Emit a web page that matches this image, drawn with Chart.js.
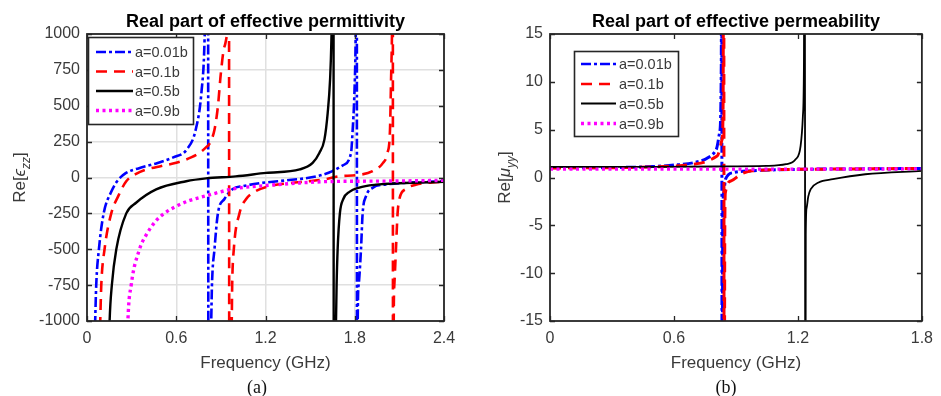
<!DOCTYPE html>
<html><head><meta charset="utf-8">
<script src="https://cdn.jsdelivr.net/npm/chart.js@4/dist/chart.umd.min.js"></script>
<style>
html,body{margin:0;padding:0;background:#fff;}
#wrap{position:relative;width:941px;height:396px;overflow:hidden;background:#fff;}
canvas{position:absolute;top:0;}
#c1{left:0;}
#c2{left:470px;}
</style></head><body>
<div id="wrap"><canvas id="c1" width="470" height="396"></canvas><canvas id="c2" width="471" height="396"></canvas></div>
<script>
// ---------- data ----------
const seriesLabels = ['a=0.01b', 'a=0.1b', 'a=0.5b', 'a=0.9b'];

const epsTicksX = [0, 0.6, 1.2, 1.8, 2.4];
const epsTicksY = [-1000, -750, -500, -250, 0, 250, 500, 750, 1000];
const muTicksX = [0, 0.6, 1.2, 1.8];
const muTicksY = [-15, -10, -5, 0, 5, 10, 15];

// Re[eps_zz] (left panel)
const epsF_a001 = [0.048,0.055,0.062,0.080,0.112,0.163,0.20,0.26,0.35,0.47,0.58,0.67,0.73,0.77,0.79,0.80,0.812,
  0.818,0.830,0.835,0.840,0.857,0.880,0.924,0.98,1.05,1.16,1.34,1.45,1.56,1.65,1.72,1.775,1.786,1.797,1.806,1.810,1.813,
  1.816,1.820,1.826,1.842,1.853,1.876,1.92,2.01,2.23,2.40];
const epsV_a001 = [-1300,-1000,-750,-500,-250,-100,-30,30,65,100,140,194,330,600,950,1500,4000,
  -4000,-1200,-1000,-750,-500,-250,-150,-80,-60,-40,-20,-8,12,44,85,171,333,565,950,1500,4000,
  -4000,-1000,-750,-500,-250,-130,-72,-49,-33,-26];

const epsF_a01 = [0.082,0.089,0.096,0.118,0.163,0.21,0.264,0.33,0.40,0.50,0.60,0.70,0.756,0.80,0.823,0.857,0.88,0.90,0.924,0.942,0.950,0.953,
  0.958,0.968,0.973,0.976,0.987,1.025,1.07,1.125,1.226,1.36,1.50,1.60,1.70,1.81,1.92,1.99,2.02,2.037,2.044,2.05,2.053,2.055,
  2.058,2.062,2.066,2.077,2.088,2.10,2.144,2.21,2.32,2.40];
const epsV_a01 = [-1300,-1000,-750,-500,-250,-130,-26,25,56,80,102,140,171,210,235,333,495,727,912,1000,1500,4000,
  -4000,-1200,-1000,-750,-500,-250,-150,-100,-60,-40,-25,-12,9,16,44,102,171,333,680,981,1500,4000,
  -4000,-1000,-750,-500,-250,-150,-80,-50,-35,-30];

const epsF_a05 = [0.145,0.152,0.167,0.197,0.264,0.33,0.465,0.667,0.80,1.0,1.204,1.43,1.517,1.562,1.596,1.618,1.634,1.643,1.650,1.656,
  1.660,1.670,1.674,1.678,1.685,1.70,1.723,1.764,1.83,1.943,2.10,2.40];
const epsV_a05 = [-1300,-1000,-750,-500,-250,-176,-83,-26,-6,8,32,56,102,171,264,449,680,958,1500,4000,
  -4000,-1200,-1000,-750,-500,-250,-150,-100,-70,-50,-40,-30];

const epsF_a09 = [0.268,0.275,0.297,0.353,0.398,0.465,0.52,0.60,0.69,0.81,0.98,1.204,1.43,1.63,2.0,2.4];
const epsV_a09 = [-1300,-1000,-750,-500,-400,-300,-250,-200,-160,-125,-80,-56,-38,-28,-25,-20];

// Re[mu_yy] (right panel)
const muF_a001 = [0,0.3,0.5,0.6,0.698,0.766,0.805,0.821,0.829,0.831,
  0.833,0.836,0.842,0.849,0.889,0.968,1.2,1.5,1.8];
const muV_a001 = [1.02,1.04,1.15,1.3,1.56,2.08,2.95,4.7,11.6,40,
  -40,-4,-1.5,-0.2,0.52,0.69,0.85,0.9,0.95];

const muF_a01 = [0,0.4,0.6,0.73,0.809,0.833,0.838,0.841,
  0.843,0.846,0.849,0.877,0.924,0.98,1.2,1.5,1.8];
const muV_a01 = [1.0,1.05,1.2,1.5,2.25,4,8,40,
  -40,-6,-1.56,-0.35,0.34,0.7,0.85,0.9,0.95];

const muF_a05 = [0,0.5,0.8,1.047,1.142,1.189,1.213,1.224,1.229,1.233,
  1.236,1.238,1.242,1.25,1.262,1.30,1.369,1.526,1.8];
const muV_a05 = [1.1,1.12,1.15,1.21,1.39,1.9,3.3,6.4,11.6,40,
  -40,-6,-3.2,-2,-1.22,-0.52,-0.18,0.34,0.69];

const muF_a09 = [0,0.6,1.2,1.8];
const muV_a09 = [0.88,0.88,0.88,0.9];

// ---------- styles ----------
const FONT = '"Liberation Sans", Arial, Helvetica, sans-serif';
const AXC = '#262626';
const TXT = '#3a3a3a';
const styles = [
  {color:'#0000ff', dash:[10,3,3,3], width:2.6, order:4},
  {color:'#ff0000', dash:[11,7], width:2.6, order:3},
  {color:'#000000', dash:[], width:2.4, order:2},
  {color:'#ff00ff', dash:[3,3.5], width:3.4, order:1}
];

function pts(f, v) { return f.map((x, i) => ({x: x, y: v[i]})); }

function makeDatasets(pairs, widthScale) {
  return pairs.map((p, i) => ({
    label: seriesLabels[i],
    data: pts(p[0], p[1]),
    borderColor: styles[i].color,
    backgroundColor: styles[i].color,
    borderDash: styles[i].dash,
    borderWidth: styles[i].width * (widthScale ? widthScale[i] : 1),
    borderCapStyle: 'butt',
    pointRadius: 0,
    fill: false,
    cubicInterpolationMode: 'monotone',
    order: styles[i].order
  }));
}

function decor(cfg) {
  return {
    id: 'decor',
    afterDraw(chart) {
      const ctx = chart.ctx, a = chart.chartArea;
      const xs = chart.scales.x, ys = chart.scales.y;
      ctx.save();
      // inward ticks
      ctx.strokeStyle = AXC; ctx.lineWidth = 1.3; ctx.setLineDash([]);
      ctx.beginPath();
      xs.ticks.forEach(t => {
        const p = Math.round(xs.getPixelForValue(t.value)) + 0.5;
        ctx.moveTo(p, a.bottom); ctx.lineTo(p, a.bottom - 5);
        ctx.moveTo(p, a.top); ctx.lineTo(p, a.top + 5);
      });
      ys.ticks.forEach(t => {
        const p = Math.round(ys.getPixelForValue(t.value)) + 0.5;
        ctx.moveTo(a.left, p); ctx.lineTo(a.left + 5, p);
        ctx.moveTo(a.right, p); ctx.lineTo(a.right - 5, p);
      });
      ctx.stroke();
      // axes box
      ctx.lineWidth = 1.8;
      ctx.strokeRect(a.left, a.top, a.right - a.left, a.bottom - a.top);

      // legend
      const L = cfg.legend;
      ctx.fillStyle = '#fff';
      ctx.fillRect(L.x, L.y, L.w, L.h);
      ctx.lineWidth = 1.6; ctx.strokeStyle = AXC;
      ctx.strokeRect(L.x, L.y, L.w, L.h);
      chart.data.datasets.forEach((ds, i) => {
        const yy = L.rows[i];
        ctx.beginPath();
        ctx.setLineDash(ds.borderDash);
        ctx.lineCap = 'butt';
        ctx.strokeStyle = ds.borderColor;
        ctx.lineWidth = L.lineW[i];
        ctx.moveTo(L.lx0, yy); ctx.lineTo(L.lx1, yy);
        ctx.stroke();
        ctx.setLineDash([]);
        ctx.fillStyle = TXT;
        ctx.font = '14.5px ' + FONT;
        ctx.textAlign = 'left'; ctx.textBaseline = 'middle';
        ctx.fillText(ds.label, L.tx, yy + 1);
      });

      const cx = (a.left + a.right) / 2;
      // title
      ctx.fillStyle = '#000';
      ctx.font = 'bold 18px ' + FONT;
      ctx.textAlign = 'center'; ctx.textBaseline = 'middle';
      ctx.fillText(cfg.title, cx, 22);
      // x label
      ctx.fillStyle = TXT;
      ctx.font = '17px ' + FONT;
      ctx.fillText('Frequency (GHz)', cx, 363);
      // caption
      ctx.fillStyle = '#111';
      ctx.font = '18px "Liberation Serif", "Times New Roman", serif';
      ctx.fillText(cfg.caption, cfg.capX, 388);

      // y label with italic symbol and subscript
      ctx.translate(cfg.ylabX, (a.top + a.bottom) / 2);
      ctx.rotate(-Math.PI / 2);
      ctx.textAlign = 'left'; ctx.textBaseline = 'alphabetic';
      const fN = '17px ' + FONT, fI = 'italic 17px ' + FONT, fS = 'italic 12px ' + FONT;
      const parts = [
        {t: 'Re[', f: fN, dy: 0},
        {t: cfg.sym, f: fI, dy: 0},
        {t: cfg.sub, f: fS, dy: 5},
        {t: ']', f: fN, dy: 0}
      ];
      let w = 0;
      parts.forEach(p => { ctx.font = p.f; p.w = ctx.measureText(p.t).width; w += p.w; });
      let x0 = -w / 2;
      ctx.fillStyle = TXT;
      parts.forEach(p => { ctx.font = p.f; ctx.fillText(p.t, x0, 6 + p.dy); x0 += p.w; });
      ctx.restore();
    }
  };
}

function makeChart(id, datasets, o) {
  return new Chart(document.getElementById(id), {
    type: 'line',
    data: {datasets: datasets},
    options: {
      responsive: false,
      animation: false,
      events: [],
      layout: {padding: {left: 0, right: o.padRight, top: 34, bottom: 0}},
      plugins: {legend: {display: false}, tooltip: {enabled: false}, title: {display: false}},
      scales: {
        x: {
          type: 'linear', min: o.xMin, max: o.xMax,
          afterBuildTicks: s => { s.ticks = o.xTicks.map(v => ({value: v})); },
          afterFit: s => { s.height = 75; },
          grid: {display: o.grid, color: '#e0e0e0', lineWidth: 1.5, drawTicks: false},
          border: {display: false},
          ticks: {callback: v => String(v), color: TXT, font: {family: FONT, size: 16}, padding: 8, maxRotation: 0, autoSkip: false}
        },
        y: {
          type: 'linear', min: o.yMin, max: o.yMax,
          afterBuildTicks: s => { s.ticks = o.yTicks.map(v => ({value: v})); },
          afterFit: s => { s.width = o.yWidth; },
          grid: {display: o.grid, color: '#e0e0e0', lineWidth: 1.5, drawTicks: false},
          border: {display: false},
          ticks: {callback: v => String(v), color: TXT, font: {family: FONT, size: 16}, padding: 7, autoSkip: false}
        }
      }
    },
    plugins: [decor(o.decor)]
  });
}

makeChart('c1', makeDatasets([
  [epsF_a001, epsV_a001], [epsF_a01, epsV_a01], [epsF_a05, epsV_a05], [epsF_a09, epsV_a09]
]), {
  padRight: 26, yWidth: 87, grid: true,
  xMin: 0, xMax: 2.4, yMin: -1000, yMax: 1000, xTicks: epsTicksX, yTicks: epsTicksY,
  decor: {
    title: 'Real part of effective permittivity', caption: '(a)', capX: 257,
    ylabX: 19, sym: '\u03F5', sub: 'zz',
    legend: {x: 88.5, y: 37.5, w: 105, h: 87, rows: [52, 71.5, 91, 110.5], lx0: 96, lx1: 133, tx: 135, lineW: [2.6, 2.6, 2.6, 3.4]}
  }
});

makeChart('c2', makeDatasets([
  [muF_a001, muV_a001], [muF_a01, muV_a01], [muF_a05, muV_a05], [muF_a09, muV_a09]
], [1.15, 1.15, 0.75, 1.0]), {
  padRight: 13, yWidth: 80, grid: false,
  xMin: 0, xMax: 1.8, yMin: -15, yMax: 15, xTicks: muTicksX, yTicks: muTicksY,
  decor: {
    title: 'Real part of effective permeability', caption: '(b)', capX: 256,
    ylabX: 34, sym: '\u03BC', sub: 'yy',
    legend: {x: 104.5, y: 51.5, w: 104, h: 85, rows: [64, 84, 103.5, 123.5], lx0: 111, lx1: 146, tx: 149, lineW: [2.6, 2.6, 2.0, 3.4]}
  }
});
</script>
</body></html>
